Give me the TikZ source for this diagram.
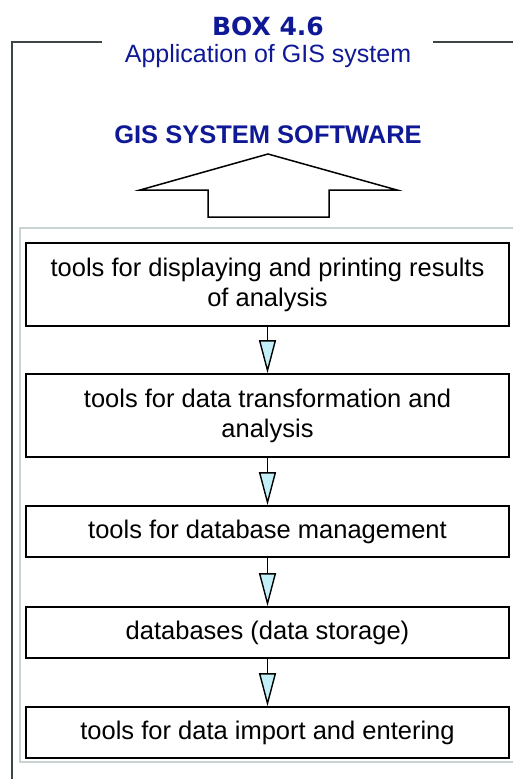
\documentclass[tikz,border=0pt]{standalone}
\usepackage{fontspec}
\setmainfont{Liberation Sans}
\newfontfamily\boxnofont{DejaVu Sans}
\usetikzlibrary{arrows.meta}

\definecolor{titleblue}{RGB}{15,25,150}
\definecolor{framegray}{RGB}{60,70,70}
\definecolor{panelgray}{RGB}{200,212,212}
\definecolor{tipcyan}{RGB}{195,240,248}

\begin{document}
\begin{tikzpicture}[x=1pt,y=1pt,
  tool/.style={draw,line width=1.6pt,minimum width=483pt,align=center,
    font=\fontsize{25.5}{30}\selectfont,inner sep=0pt},
  flow/.style={line width=1.4pt,-{Triangle[width=17pt,length=33pt,fill=tipcyan]}},
  heading/.style={text=titleblue,anchor=base,inner sep=0pt}]
\useasboundingbox (0,0) rectangle (513,-779);

% frame and panel
\draw[framegray,line width=2.8pt] (102,-42) -- (12,-42) -- (12,-779);
\draw[framegray,line width=2.8pt] (433,-42) -- (513,-42);
\draw[panelgray,line width=2pt] (513,-228) -- (20,-228) -- (20,-762) -- (513,-762);

% headings
\node[heading,font=\boxnofont\bfseries\fontsize{25}{30}\selectfont] (boxno) at (268,-35) {BOX 4.6};
\node[heading,font=\fontsize{25}{30}\selectfont] (boxtitle) at (268,-62) {Application of GIS system};
\node[heading,font=\bfseries\fontsize{25.5}{30}\selectfont] (software) at (268,-143) {GIS SYSTEM SOFTWARE};

% hollow arrow up
\draw[line width=1.5pt,line join=miter] (208,-217) -- (208,-190) -- (140,-190) -- (268,-154)
  -- (397,-190) -- (329,-190) -- (329,-217) -- cycle;

% tools
\node[tool,minimum height=83pt] (display) at (267.5,-284.5) {tools for displaying and printing results\\of analysis};
\node[tool,minimum height=83pt] (transform) at (267.5,-415.5) {tools for data transformation and\\analysis};
\node[tool,minimum height=51pt] (manage) at (267.5,-531.5) {tools for database management};
\node[tool,minimum height=51pt] (storage) at (267.5,-632.5) {databases (data storage)};
\node[tool,minimum height=51pt] (import) at (267.5,-732.5) {tools for data import and entering};

\foreach \a/\b in {display/transform,transform/manage,manage/storage,storage/import}
  \draw[flow] (\a) -- (\b);

\end{tikzpicture}
\end{document}
